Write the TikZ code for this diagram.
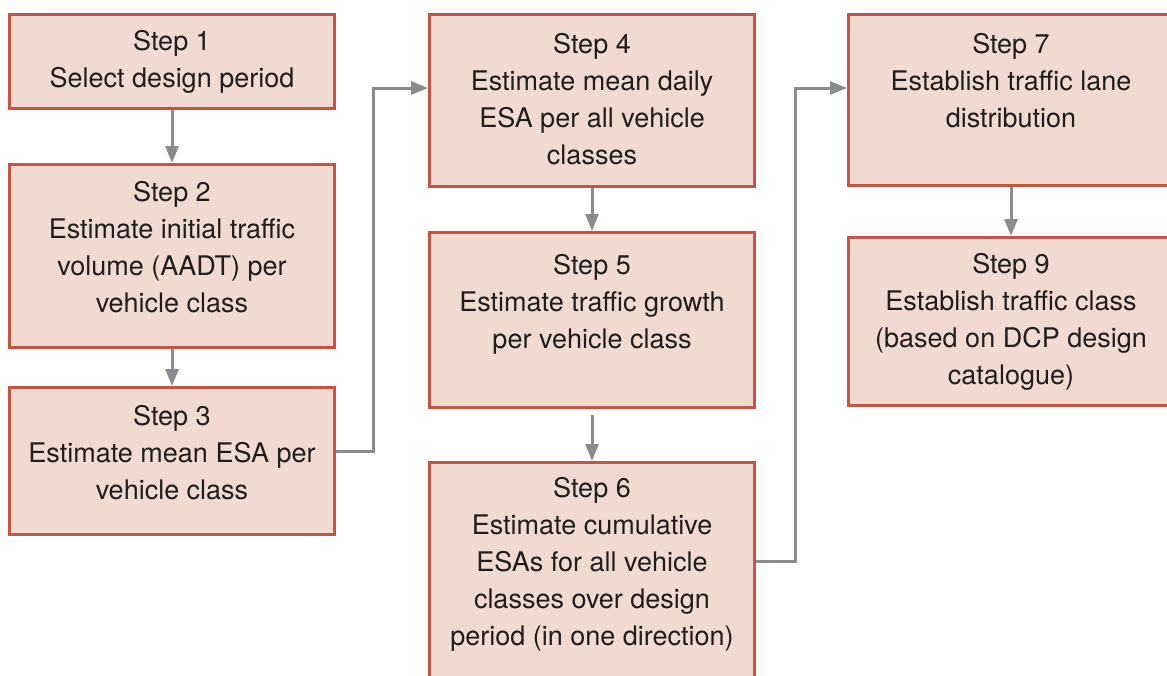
\documentclass[tikz,border=0pt]{standalone}
\usepackage{fontspec}
\setmainfont{TeX Gyre Heros}
\usetikzlibrary{arrows.meta}
\definecolor{boxfill}{RGB}{241,218,207}
\definecolor{boxline}{RGB}{201,82,64}
\definecolor{arrgray}{RGB}{138,139,142}
\definecolor{txt}{RGB}{30,30,30}
\tikzset{
  stepbox/.style={draw=boxline, fill=boxfill, line width=3pt, minimum width=325pt, inner sep=0pt, rectangle},
  steptext/.style={align=center, text=txt, font=\fontsize{27}{37}\selectfont, inner sep=0pt},
  arr/.style={draw=arrgray, line width=3pt, -{Triangle[length=17pt,width=13pt]}}
}
\begin{document}
\begin{tikzpicture}[x=1pt,y=1pt]
\useasboundingbox (0,0) rectangle (1167,-675);
\clip (0,0) rectangle (1167,-675);
\node[stepbox, minimum height=94pt] (b1) at (172,-61.5) {};
\node[stepbox, minimum height=183pt] (b2) at (172,-256) {};
\node[stepbox, minimum height=147pt] (b3) at (172,-461) {};
\node[stepbox, minimum height=172pt] (b4) at (592,-100.5) {};
\node[stepbox, minimum height=175pt] (b5) at (592,-320) {};
\node[stepbox, minimum height=236pt] (b6) at (592,-580.5) {};
\node[stepbox, minimum height=171pt] (b7) at (1011,-100) {};
\node[stepbox, minimum height=168pt] (b9) at (1011,-321.5) {};

\node[steptext] (t1) at (172,-62) {Step 1\\Select design period};
\node[steptext] (t2) at (172,-247) {Step 2\\Estimate initial traffic\\volume (AADT) per\\vehicle class};
\node[steptext] (t3) at (172,-452.5) {Step 3\\Estimate mean ESA per\\vehicle class};
\node[steptext] (t4) at (592,-99) {Step 4\\Estimate mean daily\\ESA per all vehicle\\classes};
\node[steptext] (t5) at (592,-304) {Step 5\\Estimate traffic growth\\per vehicle class};
\node[steptext] (t6) at (592,-564.5) {Step 6\\Estimate cumulative\\ESAs for all vehicle\\classes over design\\period (in one direction)};
\node[steptext] (t7) at (1011,-80.5) {Step 7\\Establish traffic lane\\distribution};
\node[steptext] (t9) at (1011,-322) {Step 9\\Establish traffic class\\(based on DCP design\\catalogue)};

\draw[arr] (b1.south) -- (b2.north);
\draw[arr] (b2.south) -- (b3.north);
\draw[arr] ([yshift=10pt]b3.east) -- ++(37,0) |- ([yshift=12.5pt]b4.west);
\draw[arr] (b4.south) -- (b5.north);
\draw[arr] ([yshift=-6pt]b5.south) -- (b6.north);
\draw[arr] ([yshift=19.5pt]b6.east) -- ++(39,0) |- ([yshift=12pt]b7.west);
\draw[arr] (b7.south) -- (b9.north);
\end{tikzpicture}
\end{document}
